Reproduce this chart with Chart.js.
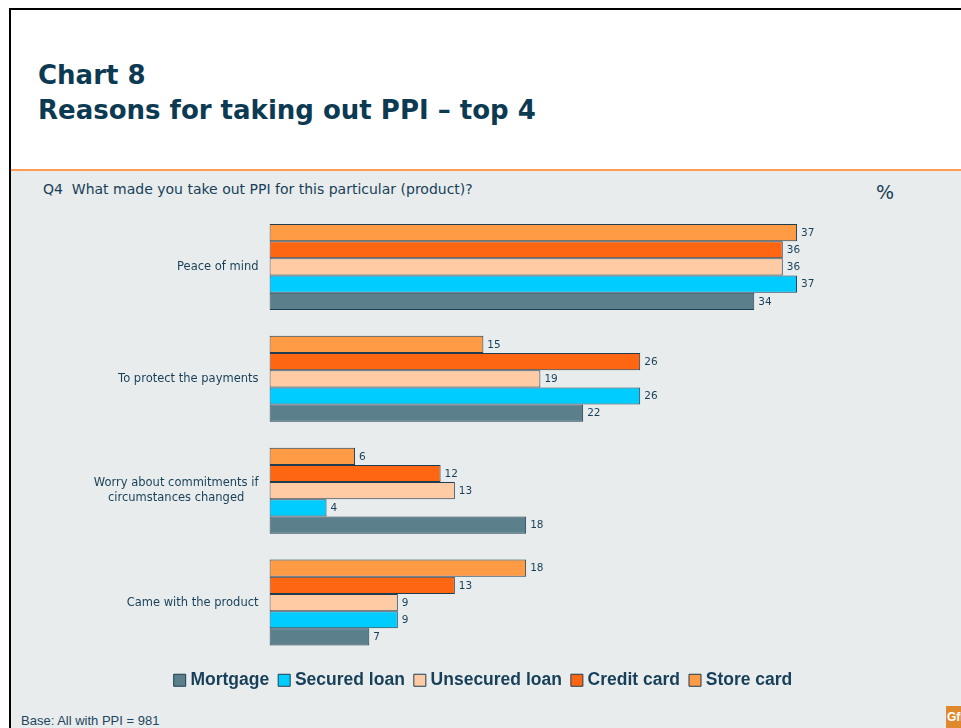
<!DOCTYPE html>
<html>
<head>
<meta charset="utf-8">
<title>Chart 8 – Reasons for taking out PPI</title>
<script src="https://cdn.jsdelivr.net/npm/chart.js@4.4.1/dist/chart.umd.min.js"></script>
<style>
  html, body { margin: 0; padding: 0; background: #ffffff; }
  #page { position: relative; width: 961px; height: 728px; overflow: hidden; background: #ffffff; }
  #frame { position: absolute; left: 9px; top: 8px; right: 0; bottom: 0;
           border-left: 2px solid #000; border-top: 2px solid #000; }
  #panel { position: absolute; left: 11px; top: 169px; right: 0; bottom: 0;
           background: #E8ECED; border-top: 2px solid #FF9A50; }
  .txt { position: absolute; white-space: nowrap; line-height: 1; color: #173F58; }
  .title { left: 38px; font: bold 26px "DejaVu Sans", sans-serif; color: #0C3A53; }
  #question { left: 43px; top: 181px; font: 14px "DejaVu Sans", sans-serif; }
  #unit { left: 876px; top: 181px; font: 19px "DejaVu Sans", sans-serif; }
  #base { left: 21px; top: 713px; font: 13px "Liberation Sans", Arial, sans-serif; color: #1E4660; }
  #logo { position: absolute; left: 946px; top: 706px; width: 15px; height: 22px; overflow: hidden;
          background: #E0892C; color: #fff; font: bold 12px "Liberation Sans", Arial, sans-serif;
          line-height: 22px; padding-left: 1px; box-sizing: border-box; white-space: nowrap; }
  #chart { position: absolute; left: 0; top: 0; }
</style>
</head>
<body>
<div id="page">
  <div id="frame"></div>
  <div id="panel"></div>
  <div class="txt title" style="top:60px">Chart 8</div>
  <div class="txt title" style="top:95px">Reasons for taking out PPI – top 4</div>
  <div class="txt" id="question">Q4&nbsp;&nbsp;What made you take out PPI for this particular (product)?</div>
  <div class="txt" id="unit">%</div>
  <div class="txt" id="base">Base: All with PPI = 981</div>
  <div id="logo">GfK</div>
  <canvas id="chart" width="961" height="728"></canvas>
</div>
<script>
// Reasons (categories), top to bottom
const reasons = [
  ['Peace of mind'],
  ['To protect the payments'],
  ['Worry about commitments if', 'circumstances changed'],
  ['Came with the product']
];

// Share of respondents (%) per product type
const storeCard     = [37, 15, 6, 18];
const creditCard    = [36, 26, 12, 13];
const unsecuredLoan = [36, 19, 13, 9];
const securedLoan   = [37, 26, 4, 9];
const mortgage      = [34, 22, 18, 7];

const seriesNames  = ['Store card', 'Credit card', 'Unsecured loan', 'Secured loan', 'Mortgage'];
const seriesValues = [storeCard, creditCard, unsecuredLoan, securedLoan, mortgage];
const seriesColors = ['#FF9A45', '#FF6611', '#FFCBA4', '#00CCFF', '#5B7F8B'];

const inkColor = '#173F58';
const barEdge  = '#1E3D52';

// Category names drawn to the left of the plot: block right-aligned, lines centred within it
const categoryLabels = {
  id: 'categoryLabels',
  afterDraw(chart) {
    const ctx = chart.ctx;
    const yScale = chart.scales.y;
    const right = chart.chartArea.left - 11;
    const lineH = 15.6;
    ctx.save();
    ctx.font = '11.5px "DejaVu Sans", sans-serif';
    ctx.fillStyle = inkColor;
    ctx.textAlign = 'center';
    ctx.textBaseline = 'middle';
    chart.data.labels.forEach((lab, i) => {
      const lines = Array.isArray(lab) ? lab : [lab];
      const w = Math.max(...lines.map(l => ctx.measureText(l).width));
      const yc = yScale.getPixelForValue(i);
      const y0 = yc - (lines.length - 1) * lineH / 2;
      lines.forEach((l, j) => ctx.fillText(l, right - w / 2, y0 + j * lineH));
    });
    ctx.restore();
  }
};

// Value printed just past the end of each bar
const valueLabels = {
  id: 'valueLabels',
  afterDatasetsDraw(chart) {
    const ctx = chart.ctx;
    ctx.save();
    ctx.font = '10.5px "DejaVu Sans", sans-serif';
    ctx.fillStyle = inkColor;
    ctx.textAlign = 'left';
    ctx.textBaseline = 'middle';
    chart.data.datasets.forEach((ds, di) => {
      const meta = chart.getDatasetMeta(di);
      if (meta.hidden) return;
      meta.data.forEach((bar, j) => {
        ctx.fillText(String(ds.data[j]), bar.x + 4, bar.y + 0.5);
      });
    });
    ctx.restore();
  }
};

new Chart(document.getElementById('chart'), {
  type: 'bar',
  data: {
    labels: reasons,
    datasets: seriesNames.map((name, i) => ({
      label: name,
      data: seriesValues[i],
      backgroundColor: seriesColors[i],
      borderColor: barEdge,
      borderWidth: 1,
      borderSkipped: false,
      barPercentage: 1.0,
      categoryPercentage: 0.768
    }))
  },
  options: {
    indexAxis: 'y',
    responsive: false,
    animation: false,
    devicePixelRatio: 1,
    layout: { padding: { left: 9, right: 0, top: 211, bottom: 29 } },
    scales: {
      x: {
        type: 'linear',
        min: 0,
        max: 48.5,
        display: false
      },
      y: {
        type: 'category',
        display: true,
        grid: { display: false },
        border: { display: false },
        ticks: { display: false },
        afterFit(scale) { scale.width = 260.5; }
      }
    },
    plugins: {
      title: { display: false },
      tooltip: { enabled: false },
      legend: {
        position: 'bottom',
        reverse: true,
        labels: {
          usePointStyle: true,
          pointStyle: 'rect',
          boxWidth: 4,
          boxHeight: 12,
          padding: 13,
          color: inkColor,
          font: { family: '"Liberation Sans", Arial, sans-serif', size: 17.5, weight: 'bold' }
        }
      }
    }
  },
  plugins: [categoryLabels, valueLabels]
});
</script>
</body>
</html>
